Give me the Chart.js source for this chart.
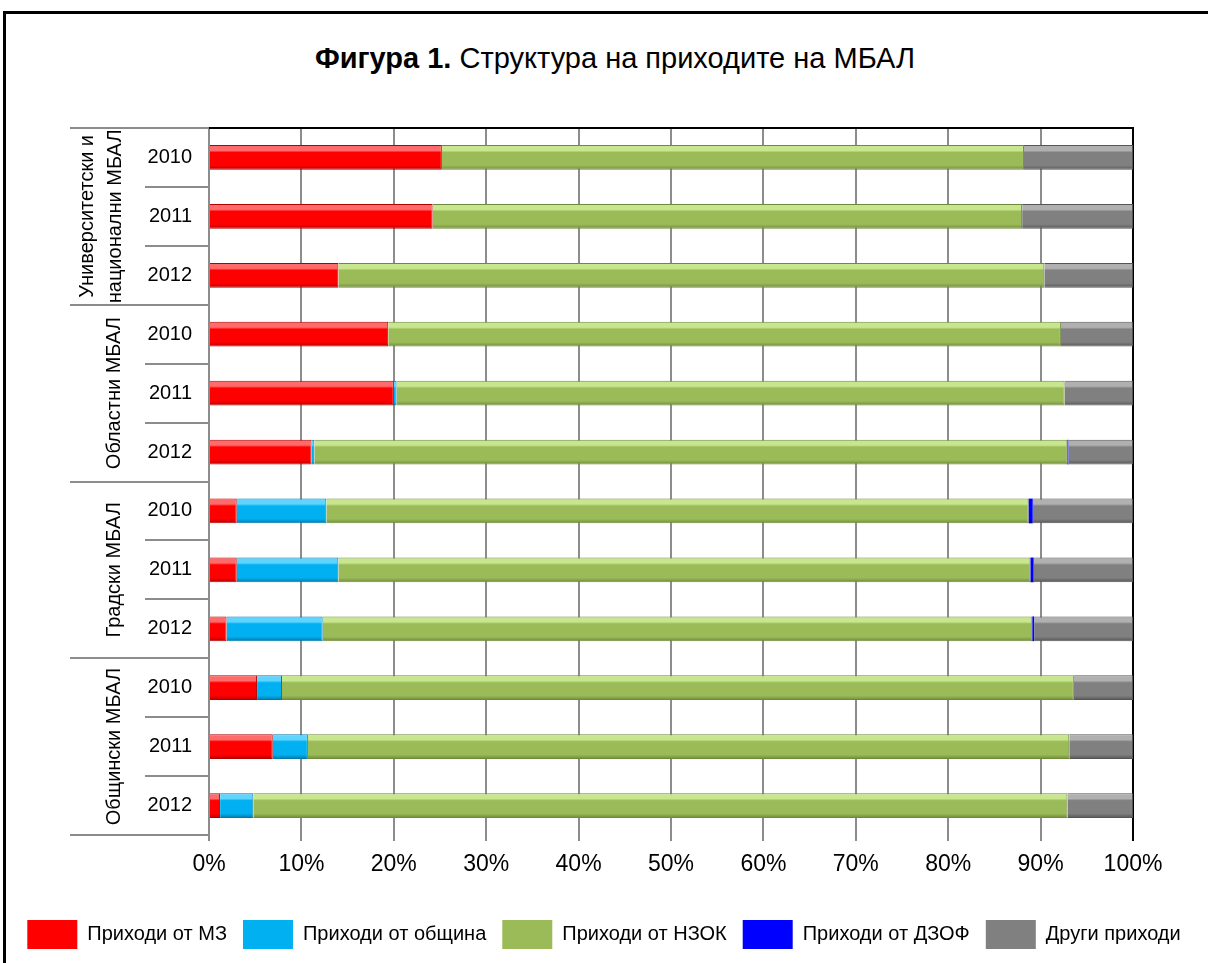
<!DOCTYPE html>
<html><head><meta charset="utf-8">
<script src="https://cdn.jsdelivr.net/npm/chart.js@4/dist/chart.umd.min.js"></script>
<style>
html,body{margin:0;padding:0;background:#fff;overflow:hidden;width:1208px;height:963px}
#frame{position:absolute;left:3px;top:11px;width:1300px;height:1100px;border-left:3px solid #000;border-top:3px solid #000;box-sizing:border-box}
#title{position:absolute;left:0;top:42px;width:1230px;text-align:center;font-family:"Liberation Sans",Arial,sans-serif;font-size:29px;color:#000}
#wrap{position:absolute;left:0;top:0;width:1208px;height:963px}
</style></head>
<body>
<div id="frame"></div>
<div id="title"><b>Фигура 1.</b> Структура на приходите на МБАЛ</div>
<div id="wrap"><canvas id="c" width="1208" height="963"></canvas></div>
<script>
// ---- data ----
const groupLabels = [['Университетски и','национални МБАЛ'], ['Областни МБАЛ'], ['Градски МБАЛ'], ['Общински МБАЛ']];
const years = ['2010','2011','2012'];
const categories = ['2010','2011','2012','2010','2011','2012','2010','2011','2012','2010','2011','2012'];
const seriesNames = ['Приходи от МЗ','Приходи от община','Приходи от НЗОК','Приходи от ДЗОФ','Други приходи'];
const incomeMZ     = [25.2, 24.2, 14.0, 19.4, 20.0, 11.1, 3.0, 3.0, 1.9, 5.2, 6.9, 1.2];
const incomeMunic  = [0, 0, 0, 0, 0.3, 0.3, 9.7, 11.0, 10.4, 2.7, 3.8, 3.6];
const incomeNZOK   = [63.0, 63.8, 76.4, 72.8, 72.3, 81.5, 76.0, 74.9, 76.8, 85.7, 82.4, 88.1];
const incomeDZOF   = [0, 0, 0, 0, 0, 0.1, 0.45, 0.35, 0.2, 0, 0, 0];
const incomeOther  = [11.8, 12.0, 9.6, 7.8, 7.4, 7.0, 10.85, 10.75, 10.7, 6.4, 6.9, 7.1];
const xTicks = [0,10,20,30,40,50,60,70,80,90,100];

// ---- styles ----
const FONT = '"Liberation Sans", Arial, sans-serif';
const palette = [
  {base:'#ff0000', light:'#ff6a6a', dark:'#b30000'},
  {base:'#00b0f0', light:'#5fd4ff', dark:'#0078a8'},
  {base:'#9bbb59', light:'#c8e68e', dark:'#6f8a3a'},
  {base:'#0000ff', light:'#0000ff', dark:'#0000a0'},
  {base:'#808080', light:'#b0b0b0', dark:'#555555'}
];
const BAR_FRAC = 0.42;

function gradFill(p){
  return (ctx) => {
    const chart = ctx.chart;
    if (!chart.chartArea || ctx.type !== 'data') return p.base;
    const ys = chart.scales.y;
    const yc = ys.getPixelForValue(ctx.dataIndex);
    const step = Math.abs(ys.getPixelForValue(1) - ys.getPixelForValue(0));
    const half = step * BAR_FRAC / 2;
    const g = chart.ctx.createLinearGradient(0, yc - half, 0, yc + half);
    g.addColorStop(0, p.light);
    g.addColorStop(0.22, p.light);
    g.addColorStop(0.3, p.base);
    g.addColorStop(0.82, p.base);
    g.addColorStop(1, p.dark);
    return g;
  };
}

const seriesData = [incomeMZ, incomeMunic, incomeNZOK, incomeDZOF, incomeOther];
const datasets = seriesData.map((d, i) => ({
  label: seriesNames[i],
  data: d,
  backgroundColor: gradFill(palette[i]),
  borderColor: palette[i].dark,
  borderWidth: i === 3 ? 0 : 1,
  borderSkipped: 'start',
  barPercentage: BAR_FRAC,
  categoryPercentage: 1.0,
  flatColor: palette[i].base
}));

const decorPlugin = {
  id: 'decor',
  afterDraw(chart) {
    const c = chart.ctx;
    const ys = chart.scales.y;
    const area = chart.chartArea;
    const n = categories.length;
    c.save();
    c.strokeStyle = '#8c8c8c';
    c.lineWidth = 2;
    for (let i = 0; i <= n; i++) {
      let yb;
      if (i === 0) yb = area.top;
      else if (i === n) yb = area.bottom;
      else yb = (ys.getPixelForValue(i - 1) + ys.getPixelForValue(i)) / 2;
      const x0 = (i % 3 === 0) ? 70 : 145;
      c.beginPath();
      c.moveTo(x0, Math.round(yb));
      c.lineTo(area.left, Math.round(yb));
      c.stroke();
    }
    // top border of plot
    c.strokeStyle = '#000';
    c.lineWidth = 2;
    c.beginPath();
    c.moveTo(area.left, area.top);
    c.lineTo(area.right + 1, area.top);
    c.stroke();
    // group labels
    c.fillStyle = '#000';
    c.font = '20px ' + FONT;
    c.textAlign = 'center';
    c.textBaseline = 'middle';
    groupLabels.forEach((lines, g) => {
      const yc = (ys.getPixelForValue(3 * g) + ys.getPixelForValue(3 * g + 2)) / 2;
      const xs = lines.length === 2 ? [87, 115] : [114];
      lines.forEach((t, k) => {
        c.save();
        c.translate(xs[k], yc);
        c.rotate(-Math.PI / 2);
        c.fillText(t, 0, 0);
        c.restore();
      });
    });
    c.restore();
  }
};

new Chart(document.getElementById('c'), {
  type: 'bar',
  data: { labels: categories, datasets },
  options: {
    indexAxis: 'y',
    responsive: false,
    devicePixelRatio: 1,
    animation: false,
    layout: { padding: { top: 128, right: 0, bottom: 4, left: 0 } },
    scales: {
      x: {
        stacked: true,
        min: 0, max: 100,
        afterBuildTicks: (s) => { s.ticks = xTicks.map(v => ({ value: v })); },
        afterFit: (s) => { s.height = 69; },
        ticks: {
          callback: (v) => v + '%',
          font: { family: FONT, size: 23 },
          color: '#000',
          padding: 10,
          maxRotation: 0
        },
        grid: {
          color: (ctx) => (ctx.tick && ctx.tick.value === 100) ? '#000' : '#8c8c8c',
          lineWidth: 2,
          tickLength: 6,
          drawTicks: true
        },
        border: { display: false }
      },
      y: {
        stacked: true,
        afterFit: (s) => { s.width = 209; },
        ticks: {
          font: { family: FONT, size: 20 },
          color: '#000',
          padding: 17
        },
        grid: { display: false, drawTicks: false },
        border: { display: true, color: '#8c8c8c', width: 2 }
      },
      yRight: {
        type: 'linear',
        position: 'right',
        display: true,
        afterFit: (s) => { s.width = 75; },
        ticks: { display: false },
        grid: { display: false, drawTicks: false },
        border: { display: false }
      }
    },
    plugins: {
      title: { display: false },
      tooltip: { enabled: false },
      legend: {
        position: 'bottom',
        labels: {
          font: { family: FONT, size: 20 },
          color: '#000',
          boxWidth: 50,
          boxHeight: 29,
          padding: 16,
          generateLabels: (chart) => chart.data.datasets.map((ds, i) => ({
            text: ds.label,
            fillStyle: ds.flatColor,
            strokeStyle: ds.flatColor,
            lineWidth: 0,
            hidden: false,
            datasetIndex: i,
            fontColor: '#000'
          }))
        }
      }
    }
  },
  plugins: [decorPlugin]
});
</script>
</body></html>
